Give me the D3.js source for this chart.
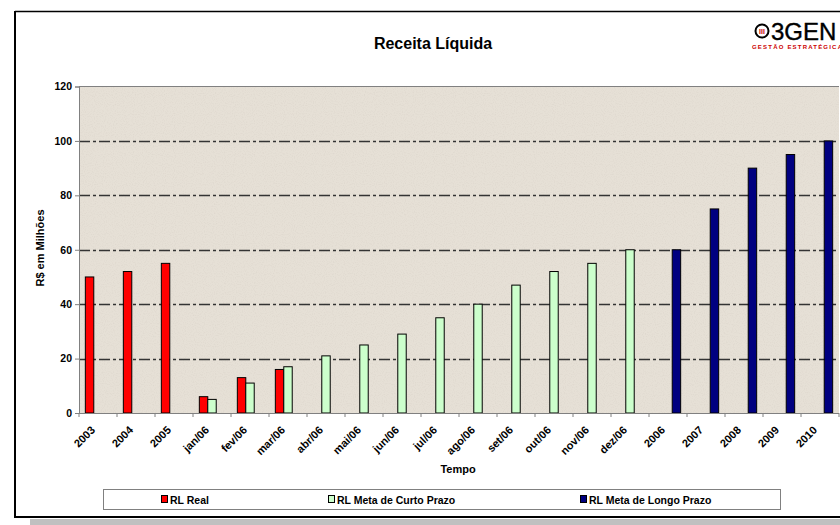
<!DOCTYPE html>
<html><head><meta charset="utf-8">
<script src="https://cdn.jsdelivr.net/npm/d3@7/dist/d3.min.js"></script>
<style>body{margin:0;background:#fff}svg{display:block}text{font-family:Arial,"Liberation Sans",sans-serif}</style>
</head><body><svg id="c" width="840" height="525"></svg>
<script>
const categories = ["2003","2004","2005","jan/06","fev/06","mar/06","abr/06","mai/06","jun/06","jul/06","ago/06","set/06","out/06","nov/06","dez/06","2006","2007","2008","2009","2010"];
const seriesNames = ["RL Real","RL Meta de Curto Prazo","RL Meta de Longo Prazo"];
const rlReal = [50,52,55,6,13,16,null,null,null,null,null,null,null,null,null,null,null,null,null,null];
const rlCurto = [null,null,null,5,11,17,21,25,29,35,40,47,52,55,60,null,null,null,null,null];
const rlLongo = [null,null,null,null,null,null,null,null,null,null,null,null,null,null,null,60,75,90,95,100];
const yTicks = [0,20,40,60,80,100,120];
const colors = ["#ff0000","#ccffcc","#000080"];

const svg = d3.select("#c");
const L=79, R=839, T=86.5, B=413;
const x = d3.scaleBand().domain(categories).range([L,R]).paddingInner(0).paddingOuter(0);
const xs = d3.scaleBand().domain(seriesNames).range([0,x.bandwidth()]).paddingInner(0).paddingOuter(0.75);
const y = d3.scaleLinear().domain([0,120]).range([B,T]);

// frame
svg.append("rect").attr("x",30).attr("y",519).attr("width",810).attr("height",6).attr("fill","#c0c0c0");
svg.append("line").attr("x1",15).attr("x2",840).attr("y1",11.5).attr("y2",11.5).attr("stroke","#000").attr("stroke-width",1.5);
svg.append("line").attr("x1",15).attr("x2",15).attr("y1",11).attr("y2",518).attr("stroke","#000").attr("stroke-width",2);
svg.append("line").attr("x1",14).attr("x2",840).attr("y1",517).attr("y2",517).attr("stroke","#000").attr("stroke-width",2);

// title
svg.append("text").attr("x",433).attr("y",49).attr("text-anchor","middle").attr("font-size",16).attr("font-weight","bold").text("Receita Líquida");

// logo
const lg = svg.append("g");
lg.append("circle").attr("cx",762).attr("cy",31).attr("r",6.5).attr("fill","#fff").attr("stroke","#000").attr("stroke-width",2);
lg.append("text").attr("x",762).attr("y",34).attr("text-anchor","middle").attr("font-size",7).attr("font-weight","bold").attr("fill","#c00").text("III");
lg.append("text").attr("x",771).attr("y",40).attr("font-size",24).attr("fill","#000").attr("stroke","#000").attr("stroke-width",0.4).text("3GEN");
lg.append("text").attr("x",752).attr("y",49).attr("font-size",6).attr("font-weight","bold").attr("fill","#cc0000").attr("letter-spacing",1.2).text("GESTÃO ESTRATÉGICA");

// plot background
const defs = svg.append("defs");
const f = defs.append("filter").attr("id","noise").attr("x",0).attr("y",0).attr("width","100%").attr("height","100%");
f.append("feTurbulence").attr("type","fractalNoise").attr("baseFrequency",0.9).attr("numOctaves",1).attr("seed",3).attr("result","n");
f.append("feColorMatrix").attr("in","n").attr("type","matrix").attr("values","0 0 0 0 0.55  0 0 0 0 0.5  0 0 0 0 0.45  0 0 0 -1.6 0.85").attr("result","m");
f.append("feComposite").attr("in","m").attr("in2","SourceGraphic").attr("operator","in");
svg.append("rect").attr("x",L).attr("y",T).attr("width",R-L).attr("height",B-T).attr("fill","#e6e0d6");
svg.append("rect").attr("x",L).attr("y",T).attr("width",R-L).attr("height",B-T).attr("fill","#e6e0d6").attr("filter","url(#noise)").attr("opacity",0.35);
svg.append("line").attr("x1",L).attr("x2",R).attr("y1",T).attr("y2",T).attr("stroke","#808080").attr("stroke-width",1);

// gridlines
svg.append("g").selectAll("line").data(yTicks.filter(v=>v>0&&v<120)).join("line")
  .attr("x1",L).attr("x2",R).attr("y1",d=>Math.round(y(d))+0.5).attr("y2",d=>Math.round(y(d))+0.5)
  .attr("stroke","#333").attr("stroke-width",1.5).attr("stroke-dasharray","11,3,3,3");

// bars
const series = [rlReal, rlCurto, rlLongo];
series.forEach((vals,si)=>{
  svg.append("g").selectAll("rect").data(categories.map((c,i)=>({c,v:vals[i]})).filter(d=>d.v!=null)).join("rect")
    .attr("x",d=>x(d.c)+xs(seriesNames[si]))
    .attr("y",d=>y(d.v))
    .attr("width",xs.bandwidth())
    .attr("height",d=>B-y(d.v))
    .attr("fill",colors[si]).attr("stroke","#000").attr("stroke-width",1);
});

// y axis
const ya = svg.append("g").attr("transform",`translate(${L},0)`).call(d3.axisLeft(y).tickValues(yTicks).tickSize(4).tickPadding(3));
ya.select(".domain").attr("stroke","#808080");
ya.selectAll(".tick line").attr("stroke","#808080");
ya.selectAll("text").attr("font-size",10.5).attr("font-weight","bold").attr("fill","#000").attr("font-family","Arial");

// x axis
svg.append("line").attr("x1",L).attr("x2",R).attr("y1",B+0.5).attr("y2",B+0.5).attr("stroke","#808080");
svg.append("g").selectAll("line").data(categories.concat(["end"])).join("line")
  .attr("x1",(d,i)=>L+i*x.step()).attr("x2",(d,i)=>L+i*x.step())
  .attr("y1",B).attr("y2",B+4).attr("stroke","#808080");
svg.append("g").selectAll("text").data(categories).join("text")
  .attr("transform",d=>`translate(${x(d)+x.bandwidth()/2-5},${B+15}) rotate(-45)`)
  .attr("text-anchor","end").attr("font-size",11).attr("font-weight","bold").attr("dy","0.35em").text(d=>d);

// axis titles
svg.append("text").attr("x",458).attr("y",473).attr("text-anchor","middle").attr("font-size",11).attr("font-weight","bold").text("Tempo");
svg.append("text").attr("transform","translate(44,248) rotate(-90)").attr("text-anchor","middle").attr("font-size",11).attr("font-weight","bold").text("R$ em Milhões");

// legend
svg.append("rect").attr("x",103.5).attr("y",489.5).attr("width",677).attr("height",20).attr("fill","#fff").attr("stroke","#808080");
const legX = [161,328,580];
const lgd = svg.append("g").selectAll("g").data(seriesNames).join("g").attr("transform",(d,i)=>`translate(${legX[i]},0)`);
lgd.append("rect").attr("x",0.5).attr("y",495.5).attr("width",6).attr("height",7).attr("fill",(d,i)=>colors[i]).attr("stroke","#000");
lgd.append("text").attr("x",9).attr("y",503.5).attr("font-size",10.5).attr("font-weight","bold").text(d=>d);
</script></body></html>
